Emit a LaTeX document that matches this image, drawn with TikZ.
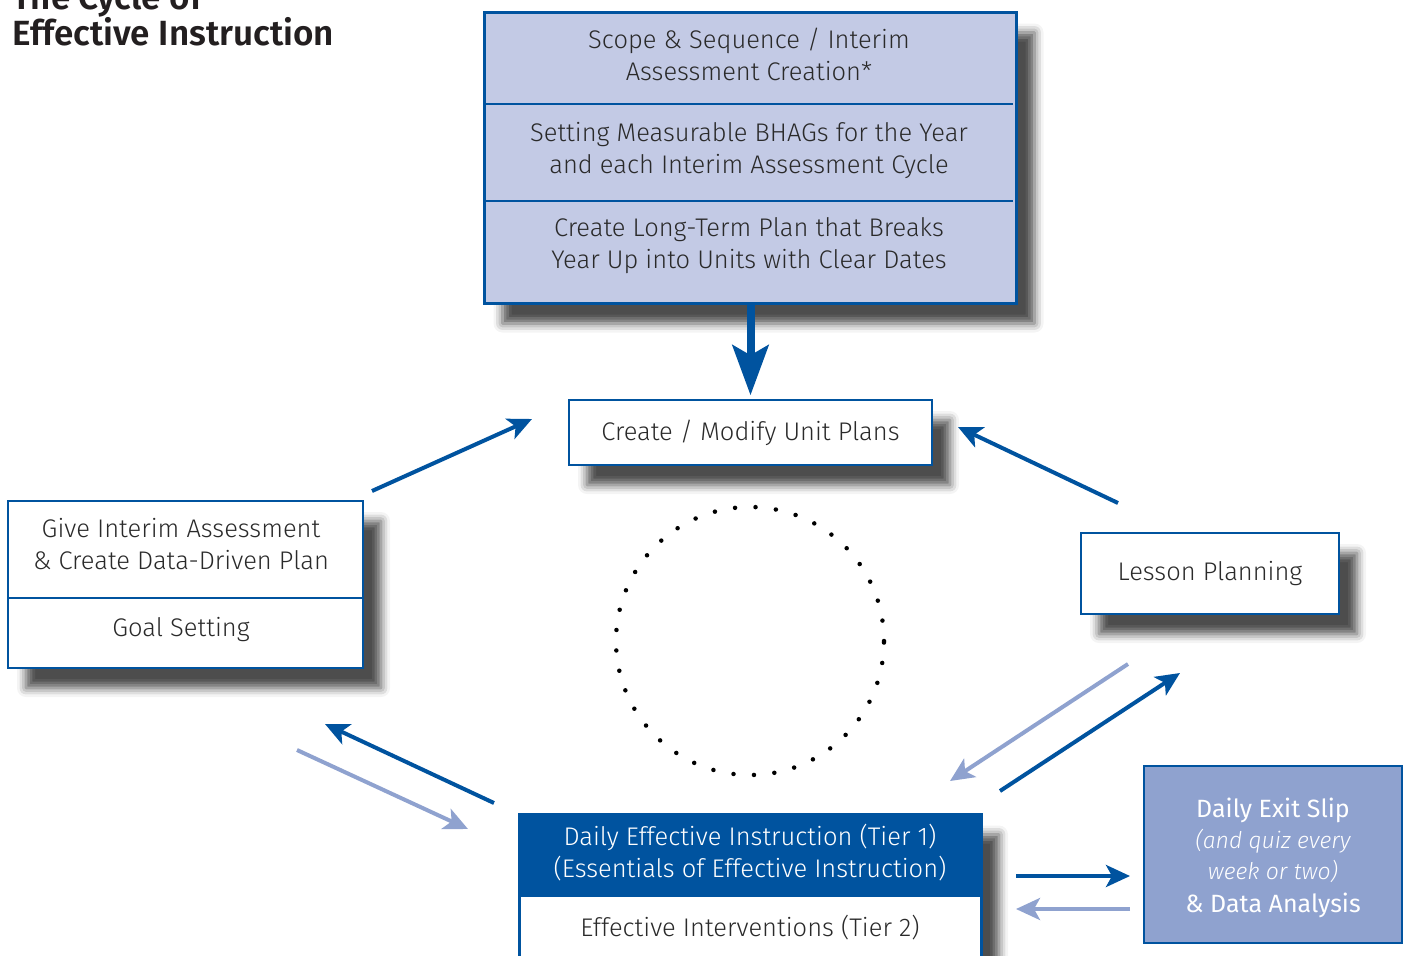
\documentclass[tikz,border=0pt]{standalone}
\usepackage{fontspec}
\setmainfont{Fira Sans}[UprightFont=* Light, ItalicFont=* Light Italic, BoldFont=* SemiBold]
\newfontfamily\plainfont{Fira Sans}
\usetikzlibrary{arrows.meta,shadows.blur,positioning}
\definecolor{cycleblue}{HTML}{00539F}
\definecolor{lavender}{HTML}{C3CAE5}
\definecolor{periwinkle}{HTML}{8FA2CF}
\definecolor{inktext}{HTML}{2A2A2A}
\definecolor{titleink}{HTML}{231F20}
\begin{document}
\begin{tikzpicture}[x=1pt, y=-1pt,
    fwd/.style={draw=cycleblue, line width=4pt, -{Stealth[length=24pt, width=22pt, inset=6pt]}},
    back/.style={fwd, draw=periwinkle}]
\tikzset{box/.style={draw=cycleblue, line width=1.5pt, fill=white, inner sep=0pt,
                     text=inktext, align=center, font=\fontsize{25.5}{32}\selectfont},
         boxshadow/.style={blur shadow={shadow xshift=18pt, shadow yshift=-20pt,
                           shadow blur radius=9pt, shadow opacity=70}},
         words/.style={text=inktext, align=center, inner sep=0pt,
                       font=\fontsize{25.5}{32}\selectfont},
         divider/.style={draw=cycleblue, line width=1.5pt},
         titletext/.style={anchor=base west, inner sep=0pt, text=titleink,
                           font=\bfseries\fontsize{35}{36}\selectfont}}
%\tikzset{every node/.style={draw=red}}
\useasboundingbox (0,0) rectangle (1406,956);

\node[titletext] (title) at (12,45) {Effective Instruction};
\node[titletext] (titletop) at (12,9) {The Cycle of};

% planning box on top
\node[box, fill=lavender, line width=3pt, boxshadow, minimum width=532, minimum height=291,
      anchor=north west] (scope) at (483,11) {};
\node[words] (scope1) at (749,54) {Scope \& Sequence / Interim\\Assessment Creation*};
\node[words] (scope2) at (749,150) {Setting Measurable BHAGs for the Year\\and each Interim Assessment Cycle};
\node[words] (scope3) at (749,246) {Create Long-Term Plan that Breaks\\Year Up into Units with Clear Dates};
\draw[divider] (486,104) -- (1013,104);
\draw[divider] (486,201) -- (1013,201);

\node[box, boxshadow, minimum width=363, minimum height=65] (unit) at (750.5,432.5) {Create / Modify Unit Plans};

\draw[draw=cycleblue, line width=8pt, shorten >=4pt,
      -{Stealth[length=50pt, width=36pt, inset=10pt]}] (scope.south) -- (unit.north);

\node[box, boxshadow, minimum width=355, minimum height=167] (give) at (185.5,584.5) {};
\node[words] (give1) at (181,544) {Give Interim Assessment\\\& Create Data-Driven Plan};
\node[words] (give2) at (181,630) {Goal Setting};
\draw[divider] (8,598) -- (363,598);

\node[box, boxshadow, minimum width=258, minimum height=81] (lesson) at (1210,573.5) {Lesson Planning};

% the cycle in the middle
\node[circle, minimum size=268, inner sep=0pt, draw=black, line width=4.5pt, line cap=round,
      dash pattern=on 0pt off 20.5pt] (cycle) at (750,641) {};

\node[box, line width=3pt, boxshadow, minimum width=462, minimum height=180, anchor=north] (daily) at (750,813) {};
\node[fill=cycleblue, minimum width=462, minimum height=84, inner sep=0pt, anchor=north] (dailytop)
      at (daily.north) {};
\node[words, text=white] (daily1) at (750,853) {Daily Effective Instruction (Tier 1)\\(Essentials of Effective Instruction)};
\node[words] (daily2) at (750,928) {Effective Interventions (Tier 2)};

\node[box, fill=periwinkle, minimum width=258, minimum height=177, text=white,
      font=\fontsize{23}{31}\selectfont] (exit) at (1273,854.5) {};
\node[words, text=white, font=\fontsize{23}{31}\selectfont] (exittext) at (1273,858)
     {{\plainfont\fontsize{25}{31}\selectfont Daily Exit Slip}\\
      {\itshape (and quiz every}\\
      {\itshape week or two)}\\[2pt]
      {\plainfont\fontsize{25}{31}\selectfont \& Data Analysis}};

% connectors
\coordinate (giveout) at (372,491);
\coordinate (unitinl) at (532,419);
\coordinate (lessonout) at (1118,503);
\coordinate (unitinr) at (958,427);
\coordinate (lessonback) at (1128,664);
\coordinate (dailyinr) at (950,781);
\coordinate (dailyoutr) at (1000,791);
\coordinate (lessonin) at (1180,673);
\coordinate (dailyoutl) at (494,803);
\coordinate (givein) at (325,724);
\coordinate (giveback) at (297,750);
\coordinate (dailyinl) at (468,829);
\coordinate (dailyexit) at (1016,876);
\coordinate (exitin) at (1130,876);
\coordinate (exitback) at (1130,909);
\coordinate (dailyret) at (1016,909);

\draw[fwd] (giveout) -- (unitinl);
\draw[fwd] (lessonout) -- (unitinr);
\draw[back] (lessonback) -- (dailyinr);
\draw[fwd] (dailyoutr) -- (lessonin);
\draw[fwd] (dailyoutl) -- (givein);
\draw[back] (giveback) -- (dailyinl);
\draw[fwd] (dailyexit) -- (exitin);
\draw[back] (exitback) -- (dailyret);
\end{tikzpicture}
\end{document}
